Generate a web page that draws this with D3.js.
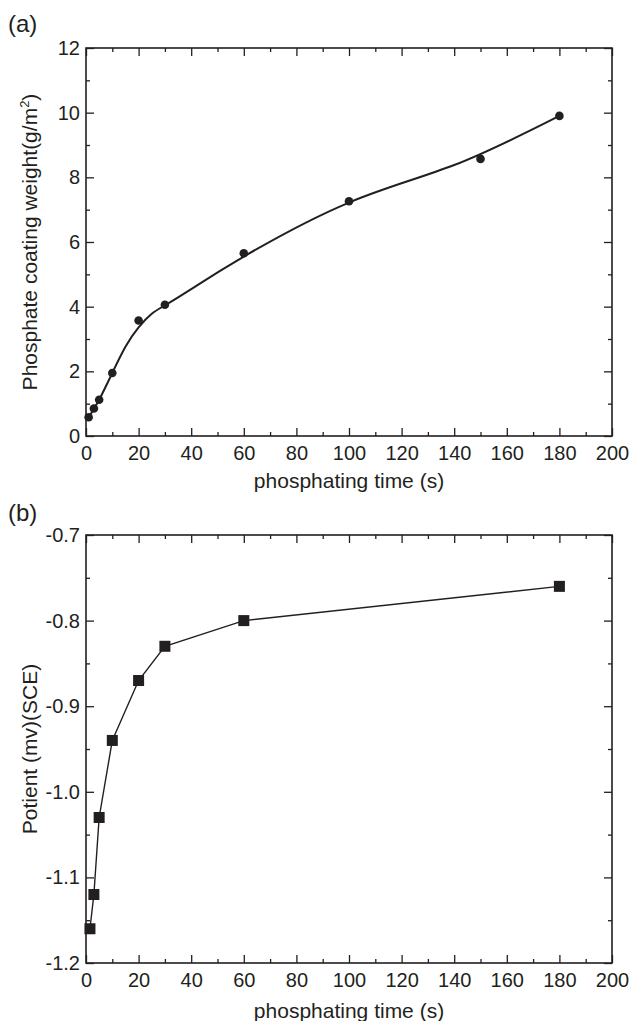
<!DOCTYPE html>
<html>
<head>
<meta charset="utf-8">
<script src="https://cdn.jsdelivr.net/npm/d3@7"></script>
<style>
  html, body { margin: 0; padding: 0; background: #fff; }
  svg text { font-family: "Liberation Sans", Arial, Helvetica, sans-serif; fill: #231f20; }
</style>
</head>
<body>
<div id="chart"></div>
<script>
// panel (a) measured points
const timeA = [1, 3, 5, 10, 20, 30, 60, 100, 150, 180];
const weightA = [0.58, 0.85, 1.12, 1.95, 3.57, 4.06, 5.65, 7.26, 8.57, 9.90];
// fitted curve
const fitTime = [1, 3, 5, 10, 15, 20, 25, 30, 40, 60, 100, 140, 180];
const fitWeight = [0.55, 0.85, 1.12, 1.95, 2.76, 3.36, 3.78, 4.04, 4.54, 5.55, 7.22, 8.38, 9.90];
// panel (b)
const timeB = [1.5, 3, 5, 10, 20, 30, 60, 180];
const potB = [-1.16, -1.12, -1.03, -0.94, -0.87, -0.83, -0.80, -0.76];

const xDomain = [0, 200];
const yDomainA = [0, 12];
const yDomainB = [-1.2, -0.7];

(function(){
  const W = 630, H = 1021;
  const ink = '#231f20';
  const svg = d3.select('#chart').append('svg').attr('width', W).attr('height', H);

  const left = 86, right = 612;

  function panel(opts) {
    const { top, bottom, yDomain, yMajor, yMinor, yFmt, label, labelY, titleY } = opts;
    const x = d3.scaleLinear().domain(xDomain).range([left, right]);
    const y = d3.scaleLinear().domain(yDomain).range([bottom, top]);
    const g = svg.append('g');

    const xMaj = x.ticks(10), xMin = x.ticks(20).filter(v => !xMaj.includes(v));
    const yMaj = y.ticks(yMajor), yMin = y.ticks(yMinor).filter(v => !yMaj.some(m => Math.abs(m - v) < 1e-9));

    function axis(maker, scale, values, size, pos, fmt, pad) {
      const a = g.append('g').attr('transform', pos)
        .call(maker(scale).tickValues(values).tickSize(-size).tickSizeOuter(0)
          .tickPadding(pad || 0).tickFormat(fmt || (() => '')));
      a.select('.domain').remove();
      a.selectAll('line').attr('stroke', ink).attr('stroke-width', 1.3);
      a.selectAll('text').attr('font-size', 20).attr('fill', ink);
      return a;
    }

    // bottom
    axis(d3.axisBottom, x, xMaj, 8, `translate(0,${bottom})`, d3.format('d'), 10);
    axis(d3.axisBottom, x, xMin, 4, `translate(0,${bottom})`);
    // top
    axis(d3.axisTop, x, xMaj, 8, `translate(0,${top})`);
    axis(d3.axisTop, x, xMin, 4, `translate(0,${top})`);
    // left
    axis(d3.axisLeft, y, yMaj, 8, `translate(${left},0)`, yFmt, 6);
    axis(d3.axisLeft, y, yMin, 4, `translate(${left},0)`);
    // right
    axis(d3.axisRight, y, yMaj, 8, `translate(${right},0)`);
    axis(d3.axisRight, y, yMin, 4, `translate(${right},0)`);

    g.append('rect')
      .attr('x', left).attr('y', top).attr('width', right - left).attr('height', bottom - top)
      .attr('fill', 'none').attr('stroke', ink).attr('stroke-width', 1.6);

    g.append('text').attr('x', 8).attr('y', labelY).attr('font-size', 24).text(label);

    g.append('text')
      .attr('x', (left + right) / 2).attr('y', titleY)
      .attr('text-anchor', 'middle').attr('font-size', 21)
      .text('phosphating time (s)');

    return { x, y, g };
  }

  // (a)
  const A = panel({ top: 48, bottom: 436, yDomain: yDomainA, yMajor: 6, yMinor: 12,
    yFmt: d3.format('d'), label: '(a)', labelY: 32, titleY: 488 });

  const ytA = A.g.append('text')
    .attr('transform', `translate(37,${(48 + 436) / 2}) rotate(-90)`)
    .attr('text-anchor', 'middle').attr('font-size', 21);
  ytA.append('tspan').text('Phosphate coating weight(g/m');
  ytA.append('tspan').attr('font-size', 13).attr('dy', -8).text('2');
  ytA.append('tspan').attr('dy', 8).text(')');

  A.g.append('path')
    .datum(fitTime.map((t, i) => [t, fitWeight[i]]))
    .attr('fill', 'none').attr('stroke', ink).attr('stroke-width', 2)
    .attr('d', d3.line().x(d => A.x(d[0])).y(d => A.y(d[1])).curve(d3.curveNatural));

  A.g.selectAll('circle.pt')
    .data(timeA.map((t, i) => [t, weightA[i]]))
    .join('circle').attr('class', 'pt')
    .attr('cx', d => A.x(d[0])).attr('cy', d => A.y(d[1]))
    .attr('r', 4.3).attr('fill', ink);

  // (b)
  const B = panel({ top: 535, bottom: 963, yDomain: yDomainB, yMajor: 5, yMinor: 10,
    yFmt: d => d.toFixed(1), label: '(b)', labelY: 521, titleY: 1018 });

  B.g.append('text')
    .attr('transform', `translate(37,${(535 + 963) / 2}) rotate(-90)`)
    .attr('text-anchor', 'middle').attr('font-size', 21)
    .text('Potient (mv)(SCE)');

  const ptsB = timeB.map((t, i) => [t, potB[i]]);
  B.g.append('path')
    .datum(ptsB)
    .attr('fill', 'none').attr('stroke', ink).attr('stroke-width', 1.4)
    .attr('d', d3.line().x(d => B.x(d[0])).y(d => B.y(d[1])));

  const s = 11;
  B.g.selectAll('rect.pt')
    .data(ptsB)
    .join('rect').attr('class', 'pt')
    .attr('x', d => B.x(d[0]) - s / 2).attr('y', d => B.y(d[1]) - s / 2)
    .attr('width', s).attr('height', s).attr('fill', ink);
})();
</script>
</body>
</html>
